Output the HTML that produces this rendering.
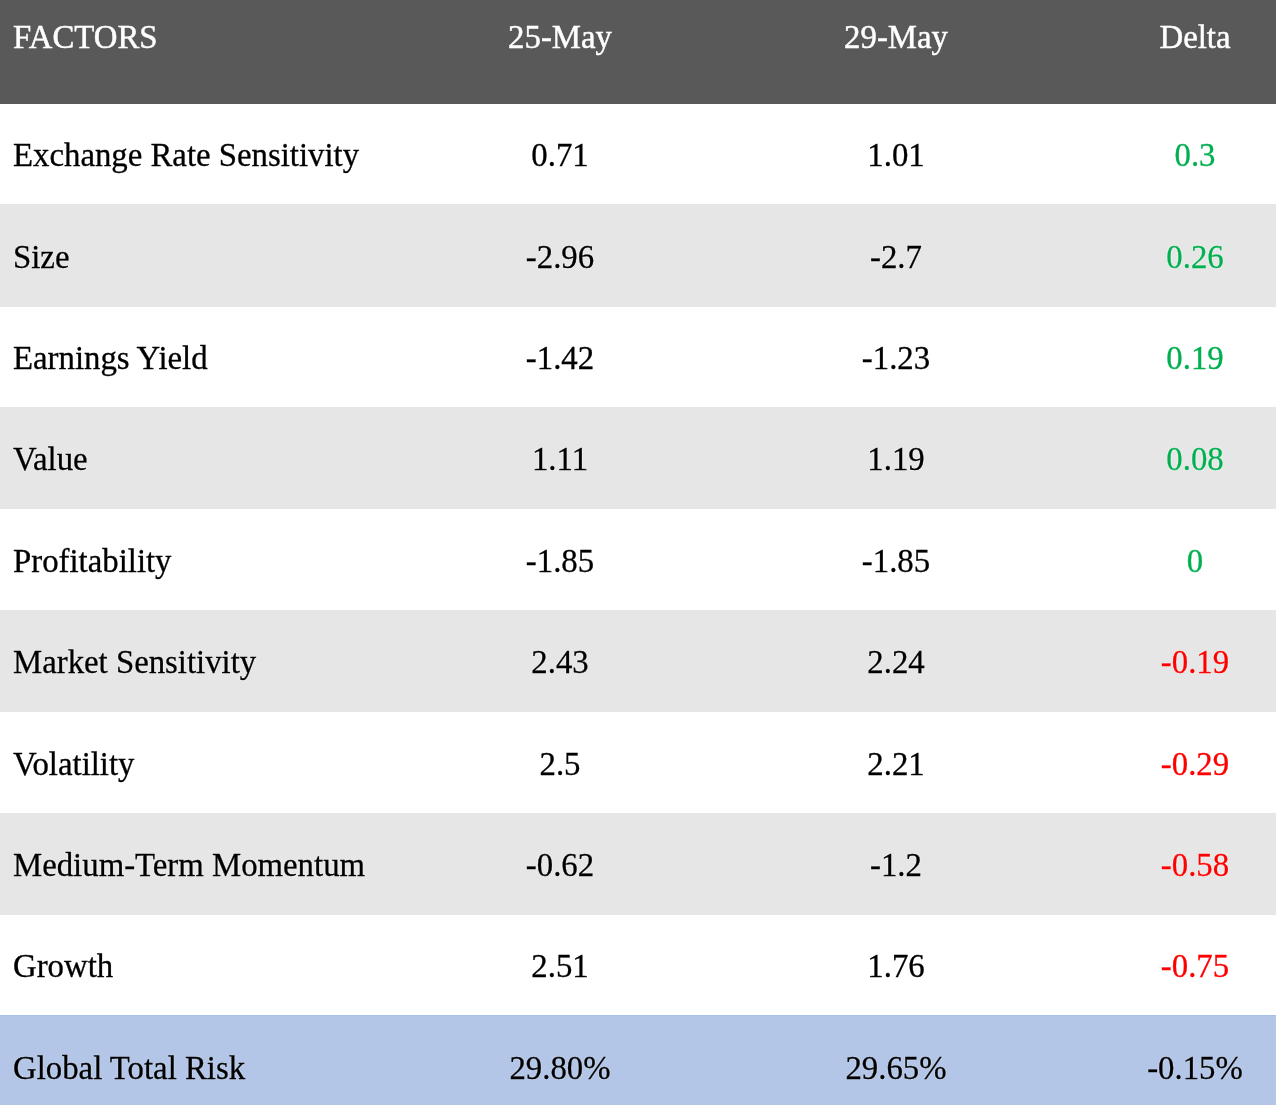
<!DOCTYPE html>
<html><head><meta charset="utf-8"><style>
html,body{margin:0;padding:0;}
body{width:1276px;height:1105px;overflow:hidden;background:#fff;font-family:"Liberation Serif",serif;font-size:32.8px;color:#000;position:relative;}
.row{position:absolute;left:0;width:1276px;}
.c{position:absolute;white-space:nowrap;line-height:40px;height:40px;will-change:transform;}
.b .c{-webkit-text-stroke:0.3px;}
.c1{left:13.2px;}
.c2{left:360.29999999999995px;width:400px;text-align:center;}
.c3{left:695.7px;width:400px;text-align:center;}
.c4{left:995.4000000000001px;width:400px;text-align:center;}
.g{color:#00b050;}
.r{color:#ff0000;}
.k{color:#000;}
</style></head><body>
<div class="row" style="top:0;height:104px;background:#595959;color:#fff;-webkit-text-stroke:0.45px #fff;">
<div class="c c1" style="top:17px">FACTORS</div><div class="c c2" style="top:17px">25-May</div><div class="c c3" style="top:17px">29-May</div><div class="c c4" style="top:17px">Delta</div>
</div>
<div class="row b" style="top:104px;height:100px;background:#fff;"><div class="c c1" style="top:31px">Exchange Rate Sensitivity</div><div class="c c2" style="top:31px">0.71</div><div class="c c3" style="top:31px">1.01</div><div class="c c4 g" style="top:31px">0.3</div></div>
<div class="row b" style="top:204px;height:103px;background:#e7e6e6;text-shadow:0 0 1px #fff,0 0 2px rgba(255,255,255,.8);"><div class="c c1" style="top:33px">Size</div><div class="c c2" style="top:33px">-2.96</div><div class="c c3" style="top:33px">-2.7</div><div class="c c4 g" style="top:33px">0.26</div></div>
<div class="row b" style="top:307px;height:100px;background:#fff;"><div class="c c1" style="top:31px">Earnings Yield</div><div class="c c2" style="top:31px">-1.42</div><div class="c c3" style="top:31px">-1.23</div><div class="c c4 g" style="top:31px">0.19</div></div>
<div class="row b" style="top:407px;height:102px;background:#e7e6e6;text-shadow:0 0 1px #fff,0 0 2px rgba(255,255,255,.8);"><div class="c c1" style="top:32px">Value</div><div class="c c2" style="top:32px">1.11</div><div class="c c3" style="top:32px">1.19</div><div class="c c4 g" style="top:32px">0.08</div></div>
<div class="row b" style="top:509px;height:101px;background:#fff;"><div class="c c1" style="top:32px">Profitability</div><div class="c c2" style="top:32px">-1.85</div><div class="c c3" style="top:32px">-1.85</div><div class="c c4 g" style="top:32px">0</div></div>
<div class="row b" style="top:610px;height:102px;background:#e7e6e6;text-shadow:0 0 1px #fff,0 0 2px rgba(255,255,255,.8);"><div class="c c1" style="top:32px">Market Sensitivity</div><div class="c c2" style="top:32px">2.43</div><div class="c c3" style="top:32px">2.24</div><div class="c c4 r" style="top:32px">-0.19</div></div>
<div class="row b" style="top:712px;height:101px;background:#fff;"><div class="c c1" style="top:32px">Volatility</div><div class="c c2" style="top:32px">2.5</div><div class="c c3" style="top:32px">2.21</div><div class="c c4 r" style="top:32px">-0.29</div></div>
<div class="row b" style="top:813px;height:102px;background:#e7e6e6;text-shadow:0 0 1px #fff,0 0 2px rgba(255,255,255,.8);"><div class="c c1" style="top:32px">Medium-Term Momentum</div><div class="c c2" style="top:32px">-0.62</div><div class="c c3" style="top:32px">-1.2</div><div class="c c4 r" style="top:32px">-0.58</div></div>
<div class="row b" style="top:915px;height:100px;background:#fff;"><div class="c c1" style="top:31px">Growth</div><div class="c c2" style="top:31px">2.51</div><div class="c c3" style="top:31px">1.76</div><div class="c c4 r" style="top:31px">-0.75</div></div>
<div class="row b" style="top:1015px;height:90px;background:#b4c6e7;box-shadow:inset 0 1px 0 #a9bee4;text-shadow:0 0 1px #d4e0f5,0 0 2px rgba(212,224,245,.8);"><div class="c c1" style="top:33px">Global Total Risk</div><div class="c c2" style="top:33px">29.80%</div><div class="c c3" style="top:33px">29.65%</div><div class="c c4 k" style="top:33px">-0.15%</div></div>
</body></html>
